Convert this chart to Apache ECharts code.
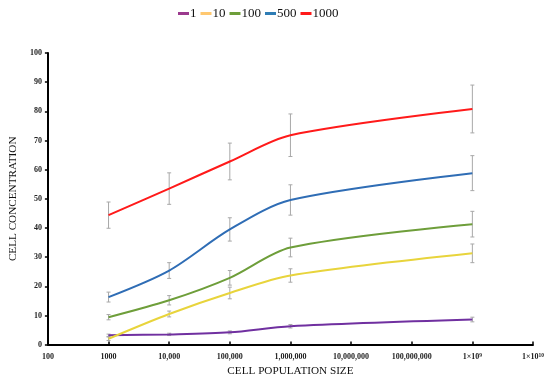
<!DOCTYPE html>
<html>
<head>
<meta charset="utf-8">
<script src="https://cdn.jsdelivr.net/npm/echarts@6/dist/echarts.min.js"></script>
<style>html,body{margin:0;padding:0;background:#fff}#c{width:550px;height:382px}</style>
</head>
<body>
<div id="c"></div>
<script>
var popSizes = [1000, 10000, 100000, 1000000, 1000000000];
var seriesNames = ['1', '10', '100', '500', '1000'];
var seriesColors = ['#7030A0', '#E8D43C', '#6E9E3A', '#2F6DB5', '#FF1A1A'];
var legendColors = ['#9B3A8E', '#FFC870', '#6E9E3A', '#2F7DB5', '#FF1A1A'];
var vals1 = [3.2, 3.5, 4.2, 6.3, 8.6];
var vals10 = [2.0, 10.5, 17.7, 23.7, 31.3];
var vals100 = [9.4, 15.2, 22.9, 33.3, 41.3];
var vals500 = [16.3, 25.4, 39.5, 49.6, 58.8];
var vals1000 = [44.4, 53.5, 62.8, 71.8, 80.8];
var err1 = [0.4, 0.4, 0.5, 0.6, 0.8];
var err10 = [0.6, 1.0, 2.0, 2.3, 3.2];
var err100 = [0.9, 1.6, 2.5, 3.2, 4.4];
var err500 = [1.7, 2.7, 4.0, 5.2, 6.0];
var err1000 = [4.5, 5.4, 6.3, 7.3, 8.2];
var xTickLabels = {2: '100', 3: '1000', 4: '10,000', 5: '100,000', 6: '1,000,000', 7: '10,000,000', 8: '100,000,000', 9: '1×10{s|9}', 10: '1×10{s|10}'};

var allVals = [vals1, vals10, vals100, vals500, vals1000];
var allErr = [err1, err10, err100, err500, err1000];
var serif = '"Liberation Serif", "DejaVu Serif", serif';

var series = [];
allVals.forEach(function (v, i) {
  series.push({
    name: seriesNames[i], type: 'line', smooth: 0.3, symbol: 'none',
    data: popSizes.map(function (x, j) { return [x, v[j]]; }),
    lineStyle: { color: seriesColors[i], width: 2 }, itemStyle: { color: legendColors[i] }, z: 3
  });
  series.push({
    type: 'custom', silent: true, z: 2,
    data: popSizes.map(function (x, j) { return [x, v[j], allErr[i][j]]; }),
    renderItem: function (params, api) {
      var x = api.value(0), y = api.value(1), e = api.value(2);
      var top = api.coord([x, y + e]);
      var bot = api.coord([x, y - e]);
      var st = { stroke: '#A8A8A8', lineWidth: 1 };
      return { type: 'group', children: [
        { type: 'line', shape: { x1: top[0], y1: top[1], x2: bot[0], y2: bot[1] }, style: st },
        { type: 'line', shape: { x1: top[0] - 2, y1: top[1], x2: top[0] + 2, y2: top[1] }, style: st },
        { type: 'line', shape: { x1: bot[0] - 2, y1: bot[1], x2: bot[0] + 2, y2: bot[1] }, style: st }
      ] };
    }
  });
});

var chart = echarts.init(document.getElementById('c'));
chart.setOption({
  animation: false,
  legend: {
    data: seriesNames, left: 173, top: 2, itemWidth: 11, itemHeight: 3, itemGap: 4,
    icon: 'rect',
    textStyle: { fontFamily: serif, fontSize: 13, color: '#111', padding: [0, 0, 0, -4] }
  },
  grid: { left: 37, right: 17, top: 53, bottom: 35 },
  xAxis: {
    type: 'log', logBase: 10, min: 100, max: 1e10,
    name: 'CELL POPULATION SIZE', nameLocation: 'middle', nameGap: 21,
    nameTextStyle: { fontFamily: serif, fontSize: 11.2, color: '#111' },
    axisLine: { lineStyle: { color: '#000', width: 2 } },
    axisTick: { inside: true, length: 3, lineStyle: { color: '#000', width: 1.5 } },
    splitLine: { show: false }, minorTick: { show: false },
    axisLabel: {
      fontFamily: serif, fontWeight: 'bold', fontSize: 8, color: '#222', margin: 8,
      formatter: function (v) { var e = Math.round(Math.log10(v)); return xTickLabels[e] || ''; },
      rich: { s: { fontSize: 5.5, fontFamily: serif, fontWeight: 'bold', color: '#222', verticalAlign: 'top', padding: [0, 0, 3, 0] } }
    }
  },
  yAxis: {
    type: 'value', min: 0, max: 100, interval: 10,
    name: 'CELL CONCENTRATION', nameLocation: 'middle', nameGap: 22,
    nameTextStyle: { fontFamily: serif, fontSize: 11.2, color: '#111' },
    axisLine: { show: true, lineStyle: { color: '#000', width: 2 } },
    axisTick: { show: true, length: 3, lineStyle: { color: '#000', width: 1.5 } },
    splitLine: { show: false },
    axisLabel: { fontFamily: serif, fontWeight: 'bold', fontSize: 8, color: '#222', margin: 6 }
  },
  series: series
});
</script>
</body>
</html>
